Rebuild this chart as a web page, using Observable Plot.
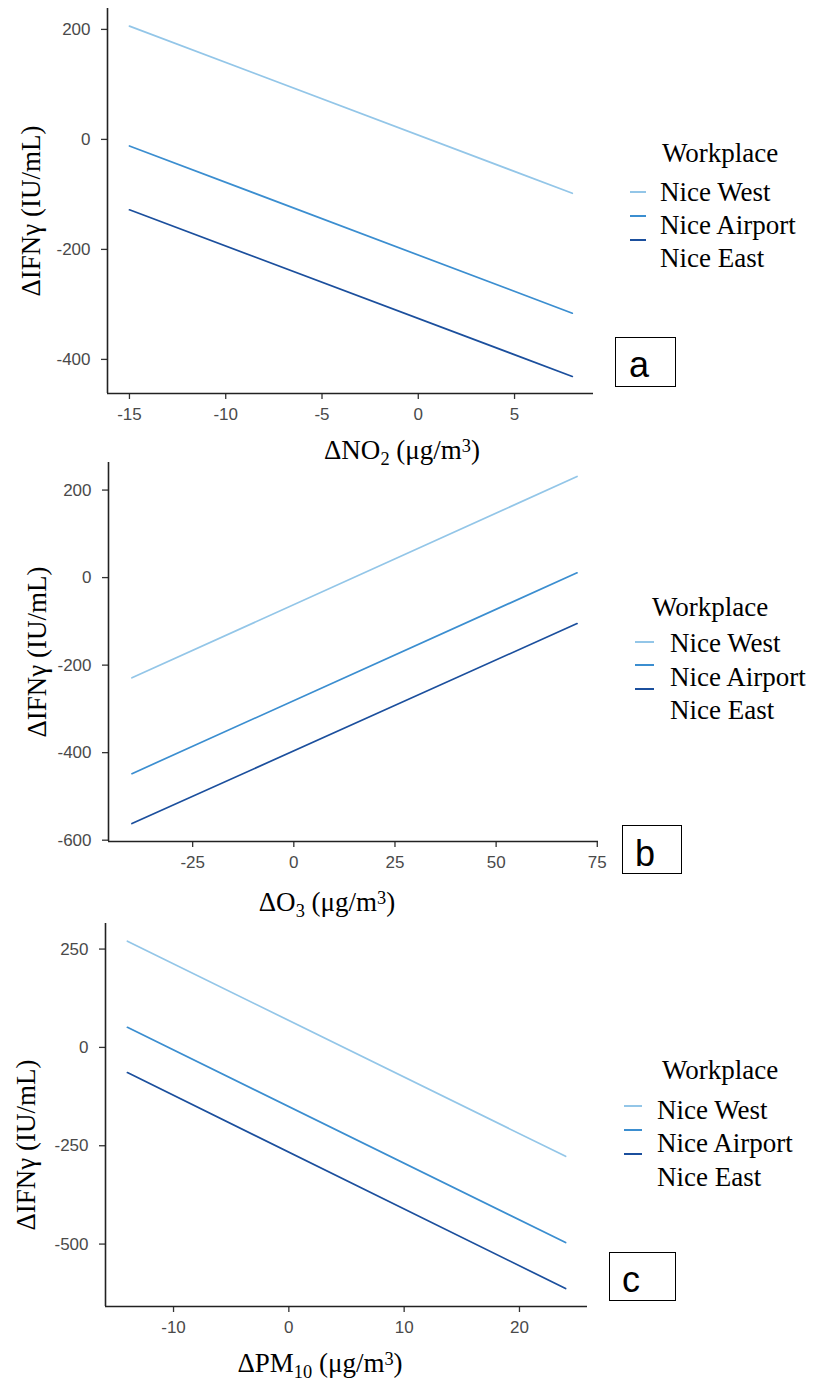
<!DOCTYPE html>
<html>
<head>
<meta charset="utf-8">
<script src="https://cdn.jsdelivr.net/npm/d3@7"></script>
<script src="https://cdn.jsdelivr.net/npm/@observablehq/plot@0.6"></script>
<style>
  body { margin: 0; background: #fff; }
  #root { position: relative; width: 816px; height: 1385px; overflow: hidden; background: #fff; }
  .panel { position: absolute; left: 0; }
  .serif { font-family: "Liberation Serif", "Times New Roman", "DejaVu Serif", serif; color: #000; }
  .abs { position: absolute; white-space: nowrap; line-height: 1; }
  .sub { font-size: 0.68em; position: relative; top: 0.3em; }
  .sup { font-size: 0.68em; position: relative; top: -0.42em; }
  .key { position: absolute; height: 2px; }
  .box { position: absolute; border: 1.5px solid #000; box-sizing: border-box; background: #fff; }
  .boxlbl { position: absolute; font-family: "Liberation Sans", Arial, sans-serif; font-size: 36px; line-height: 1; color: #000; }
</style>
</head>
<body>
<div id="root"></div>
<script>
// ---------- data ----------
const workplaces = ["Nice West", "Nice Airport", "Nice East"];
const colors = ["#93c6e8", "#3b8ed0", "#1b4f9d"];

// Panel a: ΔNO2
const no2X = [-15, 8];
const no2West = [206, -98];
const no2Airport = [-12, -316];
const no2East = [-128, -431];
const no2XTicks = [-15, -10, -5, 0, 5];
const no2YTicks = [200, 0, -200, -400];

// Panel b: ΔO3
const o3X = [-40, 70];
const o3West = [-229, 231];
const o3Airport = [-448, 11];
const o3East = [-562, -105];
const o3XTicks = [-25, 0, 25, 50, 75];
const o3YTicks = [200, 0, -200, -400, -600];

// Panel c: ΔPM10
const pm10X = [-14, 24];
const pm10West = [270, -277];
const pm10Airport = [51, -496];
const pm10East = [-64, -613];
const pm10XTicks = [-10, 0, 10, 20];
const pm10YTicks = [250, 0, -250, -500];

// ---------- layout ----------
const panels = [
  {
    xs: no2X, series: [no2West, no2Airport, no2East], xTicks: no2XTicks, yTicks: no2YTicks,
    top: 0, height: 450, mt: 8, mb: 57, ml: 107, mr: 223,
    xDomain: [-16.14, 9.1], yDomain: [-462, 238],
    xTitle: 'ΔNO<span class="sub">2</span> (μg/m<span class="sup">3</span>)', xTitleCx: 402, xTitleBase: 460,
    yTitleCx: 31, yTitleCy: 211,
    legTitle: [662, 153], legText: [660, [192, 225, 258]], legKey: [630, 646, [192, 216, 240]],
    box: [615, 337, 61, 50], letter: "a", letterPos: [629, 347]
  },
  {
    xs: o3X, series: [o3West, o3Airport, o3East], xTicks: o3XTicks, yTicks: o3YTicks,
    top: 455, height: 445, mt: 7, mb: 59, ml: 108, mr: 218,
    xDomain: [-45.8, 75.3], yDomain: [-603, 263],
    xTitle: 'ΔO<span class="sub">3</span> (μg/m<span class="sup">3</span>)', xTitleCx: 327, xTitleBase: 912,
    yTitleCx: 37, yTitleCy: 652,
    legTitle: [652, 607], legText: [670, [643, 677, 710]], legKey: [635, 654, [642, 665, 689]],
    box: [622, 825, 60, 49], letter: "b", letterPos: [635, 836]
  },
  {
    xs: pm10X, series: [pm10West, pm10Airport, pm10East], xTicks: pm10XTicks, yTicks: pm10YTicks,
    top: 905, height: 480, mt: 18, mb: 79, ml: 105, mr: 229,
    xDomain: [-15.9, 25.9], yDomain: [-658.7, 315],
    xTitle: 'ΔPM<span class="sub">10</span> (μg/m<span class="sup">3</span>)', xTitleCx: 320, xTitleBase: 1373,
    yTitleCx: 26, yTitleCy: 1145,
    legTitle: [662, 1070], legText: [657, [1110, 1143, 1177]], legKey: [624, 642, [1106, 1130, 1154]],
    box: [609, 1252, 67, 49], letter: "c", letterPos: [622, 1262]
  }
];

const root = document.getElementById("root");
const FS = 27;

function el(tag, cls, style, html) {
  const e = document.createElement(tag);
  if (cls) e.className = cls;
  Object.assign(e.style, style);
  if (html != null) e.innerHTML = html;
  root.appendChild(e);
  return e;
}

for (const p of panels) {
  const data = [];
  workplaces.forEach((w, i) => {
    p.series[i].forEach((v, j) => data.push({x: p.xs[j], y: v, workplace: w}));
  });
  const chart = Plot.plot({
    width: 816,
    height: p.height,
    marginTop: p.mt, marginBottom: p.mb, marginLeft: p.ml, marginRight: p.mr,
    style: {background: "transparent", fontFamily: "'Liberation Sans', Arial, sans-serif", overflow: "visible"},
    x: {domain: p.xDomain},
    y: {domain: p.yDomain},
    color: {domain: workplaces, range: colors},
    marks: [
      Plot.axisX({ticks: p.xTicks, tickSize: 6, tickPadding: 8, fontSize: 17, label: null,
                  tickFormat: d => String(d), fill: "#4a4a4a", stroke: "#333", strokeWidth: 1.3}),
      Plot.axisY({ticks: p.yTicks, tickSize: 6, tickPadding: 11, fontSize: 17, label: null,
                  tickFormat: d => String(d), fill: "#4a4a4a", stroke: "#333", strokeWidth: 1.3}),
      Plot.ruleX([p.xDomain[0]], {stroke: "#222", strokeWidth: 1.6}),
      Plot.ruleY([p.yDomain[0]], {stroke: "#222", strokeWidth: 1.6}),
      Plot.line(data, {x: "x", y: "y", z: "workplace", stroke: "workplace", strokeWidth: 1.7})
    ]
  });
  chart.classList.add("panel");
  chart.style.top = p.top + "px";
  root.appendChild(chart);

  // x-axis title
  el("div", "abs serif", {
    left: p.xTitleCx + "px", top: (p.xTitleBase - 0.838 * FS) + "px",
    fontSize: FS + "px", transform: "translateX(-50%)"
  }, p.xTitle);

  // y-axis title (rotated)
  el("div", "abs serif", {
    left: p.yTitleCx + "px", top: p.yTitleCy + "px",
    fontSize: FS + "px", transform: "translate(-50%,-50%) rotate(-90deg)"
  }, "ΔIFNγ (IU/mL)");

  // legend
  el("div", "abs serif", {
    left: p.legTitle[0] + "px", top: p.legTitle[1] + "px",
    fontSize: FS + "px", transform: "translateY(-50%)"
  }, "Workplace");
  workplaces.forEach((w, i) => {
    el("div", "abs serif", {
      left: p.legText[0] + "px", top: p.legText[1][i] + "px",
      fontSize: FS + "px", transform: "translateY(-50%)"
    }, w);
    el("div", "key", {
      left: p.legKey[0] + "px", width: (p.legKey[1] - p.legKey[0]) + "px",
      top: (p.legKey[2][i] - 1) + "px", background: colors[i]
    });
  });

  // panel letter box
  el("div", "box", {
    left: p.box[0] + "px", top: p.box[1] + "px", width: p.box[2] + "px", height: p.box[3] + "px"
  });
  el("div", "boxlbl", {left: p.letterPos[0] + "px", top: p.letterPos[1] + "px"}, p.letter);
}
</script>
</body>
</html>
